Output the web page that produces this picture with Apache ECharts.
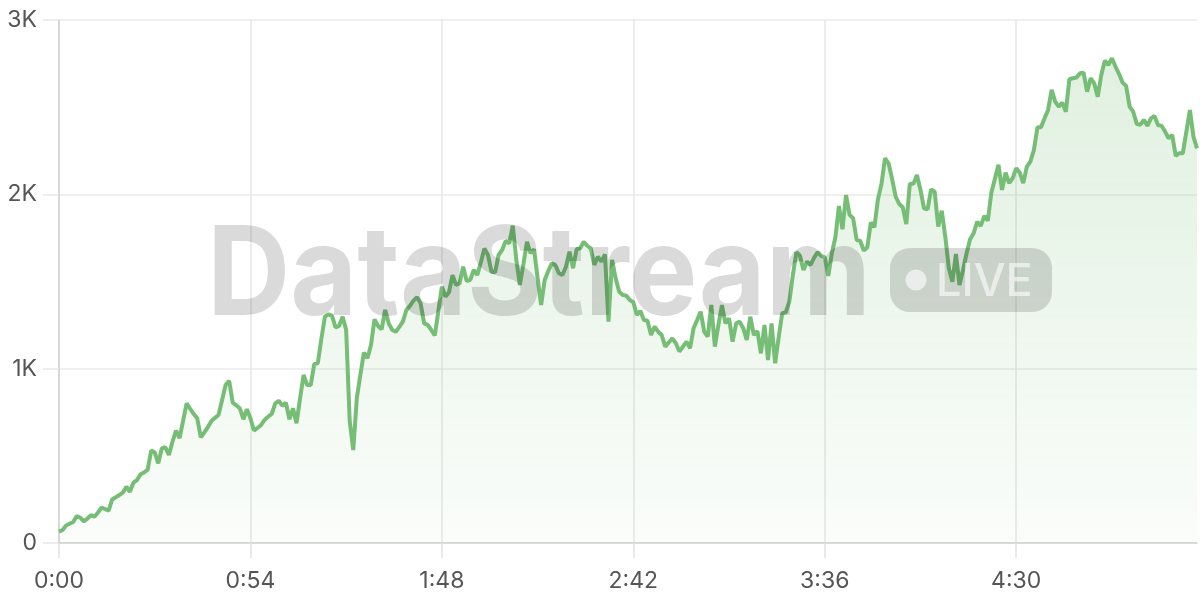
<!DOCTYPE html>
<html>
<head>
<meta charset="utf-8">
<script src="https://cdn.jsdelivr.net/npm/echarts@6/dist/echarts.min.js"></script>
<style>
  html, body { margin: 0; padding: 0; background: #ffffff; }
  #chart { width: 1200px; height: 600px; }
</style>
</head>
<body>
<div id="chart"></div>
<script>
// ---- data ----
const seriesValues = [
  65,75,100,110,120,155,145,124,140,160,
  151,175,203,195,185,250,262,275,289,323,
  294,346,361,394,405,419,530,520,457,543,
  549,505,580,644,602,700,801,770,740,715,
  606,635,665,700,718,734,820,906,931,805,
  790,773,710,767,715,645,660,677,706,725,
  740,801,816,788,805,710,773,687,830,964,
  906,906,1027,1031,1170,1298,1312,1304,1237,1245,
  1298,1222,700,533,830,964,1092,1060,1136,1283,
  1245,1226,1337,1260,1222,1212,1240,1270,1337,1360,
  1390,1410,1375,1260,1251,1222,1190,1330,1470,1413,
  1438,1537,1480,1490,1585,1503,1509,1566,1537,1610,
  1690,1652,1556,1553,1652,1681,1733,1719,1820,1624,
  1480,1600,1728,1662,1685,1520,1365,1509,1560,1604,
  1595,1547,1537,1585,1671,1576,1685,1690,1728,1705,
  1690,1595,1642,1614,1656,1270,1624,1520,1442,1423,
  1419,1394,1381,1308,1331,1279,1275,1193,1241,1212,
  1193,1126,1150,1174,1146,1098,1126,1155,1117,1232,
  1279,1327,1212,1184,1365,1126,1251,1365,1260,1289,
  1155,1260,1270,1232,1165,1298,1193,1216,1088,1251,
  1050,1260,1031,1180,1318,1323,1384,1537,1668,1648,
  1566,1614,1595,1637,1668,1647,1639,1532,1662,1754,
  1933,1800,1996,1882,1863,1738,1734,1677,1696,1838,
  1811,1972,2060,2207,2178,2087,1987,1945,1926,1830,
  2060,2060,2111,2025,1920,1914,2029,2015,1815,1906,
  1757,1576,1499,1658,1480,1566,1662,1742,1777,1843,
  1819,1876,1849,2010,2090,2169,2025,2125,2064,2092,
  2150,2125,2064,2159,2188,2255,2385,2385,2436,2484,
  2599,2532,2503,2526,2474,2660,2666,2670,2695,2698,
  2589,2666,2637,2560,2685,2767,2742,2781,2733,2691,
  2641,2622,2503,2474,2404,2398,2427,2393,2436,2450,
  2398,2393,2360,2322,2341,2220,2236,2236,2360,2484,
  2331,2264
];
// one category per second, labelled m:ss
const categories = seriesValues.map(function (_, i) {
  const m = Math.floor(i / 60), s = i % 60;
  return m + ':' + (s < 10 ? '0' : '') + s;
});
const xTickLabels = ['0:00', '0:54', '1:48', '2:42', '3:36', '4:30'];
const yTickLabels = ['0', '1K', '2K', '3K'];
const watermarkText = 'DataStream';
const badgeText = 'LIVE';

// ---- chart ----
const chart = echarts.init(document.getElementById('chart'), null, { renderer: 'canvas' });
const FONT = 'Inter, "Noto Sans", sans-serif';

chart.setOption({
  animation: false,
  grid: { left: 59, right: 3, top: 20, bottom: 57, containLabel: false },
  xAxis: {
    type: 'category',
    data: categories,
    boundaryGap: false,
    axisLine: { show: true, lineStyle: { color: '#d2d2d2', width: 1.5 } },
    axisTick: { show: true, interval: 53, length: 15, lineStyle: { color: '#e2e2e2', width: 1.5 } },
    axisLabel: {
      interval: 53,
      margin: 27,
      color: '#555555',
      fontSize: 23,
      fontFamily: FONT
    },
    splitLine: { show: true, interval: 53, lineStyle: { color: '#e6e6e6', width: 1.5 } }
  },
  yAxis: {
    type: 'value',
    min: 0,
    max: 3000,
    interval: 1000,
    axisLine: { show: true, lineStyle: { color: '#d2d2d2', width: 1.5 } },
    axisTick: { show: true, length: 16, lineStyle: { color: '#e8e8e8', width: 1.5 } },
    axisLabel: {
      margin: 22,
      color: '#555555',
      fontSize: 23,
      fontFamily: FONT,
      formatter: function (v) { return yTickLabels[Math.round(v / 1000)]; }
    },
    splitLine: { show: true, lineStyle: { color: '#ebebeb', width: 1.5 } }
  },
  series: [{
    type: 'line',
    data: seriesValues,
    symbol: 'none',
    smooth: false,
    lineStyle: { color: '#76bd76', width: 4 },
    areaStyle: {
      color: {
        type: 'linear', x: 0, y: 0, x2: 0, y2: 1,
        colorStops: [
          { offset: 0, color: 'rgba(120,190,120,0.32)' },
          { offset: 1, color: 'rgba(120,190,120,0.05)' }
        ]
      }
    },
    z: 2
  }],
  graphic: [
    {
      type: 'text',
      z: 100,
      left: 207,
      top: 216,
      style: {
        text: watermarkText,
        fontFamily: FONT,
        fontWeight: 'bold',
        fontSize: 124,
        fill: 'rgba(0,0,0,0.145)'
      },
      scaleX: 0.93
    },
    {
      type: 'rect',
      z: 100,
      shape: { x: 890, y: 248, width: 162, height: 64, r: 20 },
      style: { fill: 'rgba(0,0,0,0.145)' }
    },
    {
      type: 'circle',
      z: 101,
      shape: { cx: 916, cy: 280, r: 10.5 },
      style: { fill: 'rgba(255,255,255,0.6)' }
    },
    {
      type: 'text',
      z: 101,
      left: 936,
      top: 260,
      style: {
        text: badgeText,
        fontFamily: FONT,
        fontWeight: 500,
        fontSize: 45,
        fill: 'rgba(255,255,255,0.6)'
      }
    }
  ]
});
</script>
</body>
</html>
